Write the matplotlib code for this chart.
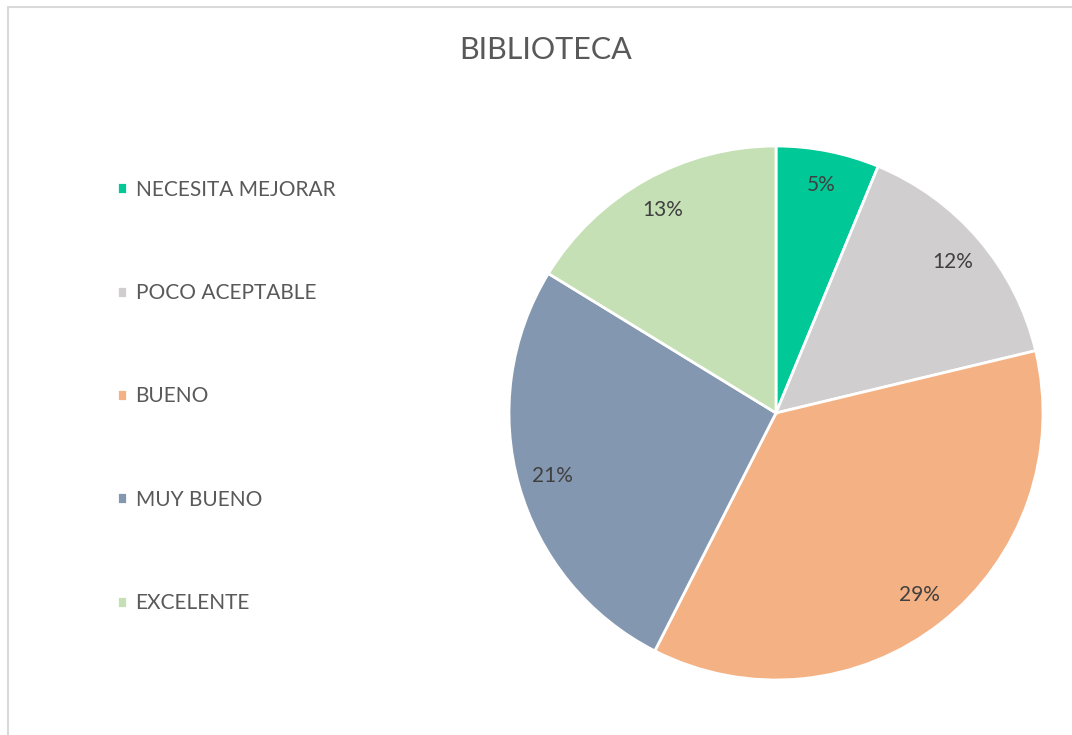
import matplotlib.pyplot as plt
from matplotlib.patches import Rectangle

categories = ["NECESITA MEJORAR", "POCO ACEPTABLE", "BUENO", "MUY BUENO", "EXCELENTE"]
percentages = [5, 12, 29, 21, 13]
colors = ["#00C896", "#D0CECE", "#F4B183", "#8497B0", "#C5E0B4"]

plt.rcParams["font.family"] = ["Lato", "DejaVu Sans"]

W, H = 1072, 735
fig = plt.figure(figsize=(W / 100, H / 100), dpi=100)
fig.patch.set_facecolor("white")

# Chart area frame (only left and top edges fall inside the image)
fig.add_artist(Rectangle((7.5 / W, -0.5), 2.0, 1.5 - 6.5 / H, transform=fig.transFigure,
                         fill=False, edgecolor="#D9D9D9", linewidth=1.5))

# Pie centered at (776, 413) px with radius 267 px
cx, cy, r = 776, 413, 267
ax = fig.add_axes([(cx - r) / W, 1 - (cy + r) / H, 2 * r / W, 2 * r / H])
wedges, texts = ax.pie(
    percentages,
    colors=colors,
    startangle=90,
    counterclock=False,
    labels=[f"{p}%" for p in percentages],
    labeldistance=0.87,
    wedgeprops=dict(edgecolor="white", linewidth=2),
    textprops=dict(color="#404040", fontsize=15),
)
for t in texts:
    t.set_horizontalalignment("center")
    t.set_verticalalignment("center")
ax.set_xlim(-1, 1)
ax.set_ylim(-1, 1)
ax.axis("off")

fig.text(546 / W, 1 - 50 / H, "BIBLIOTECA", ha="center", va="center",
         fontsize=22, color="#595959")

fig.legend(
    wedges, categories,
    loc="upper left",
    bbox_to_anchor=(98 / W, 1 - 161 / H),
    frameon=False,
    fontsize=15,
    labelcolor="#595959",
    handlelength=0.5,
    handleheight=0.5,
    handletextpad=0.4,
    labelspacing=4.0,
)

fig.savefig("out.png", dpi=100, facecolor="white")
